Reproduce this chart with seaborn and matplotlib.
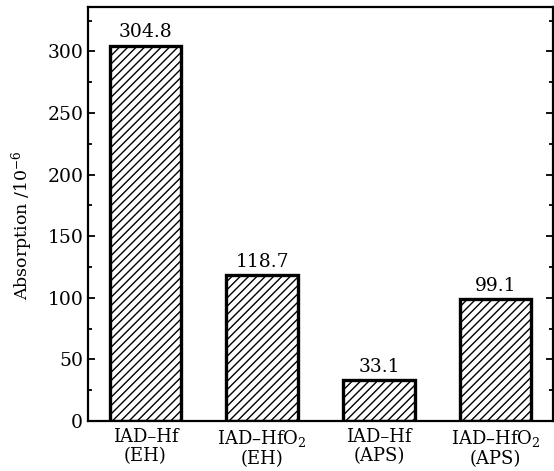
import numpy as np
import pandas as pd
import seaborn as sns
import matplotlib
matplotlib.use('Agg')
import matplotlib.pyplot as plt
from matplotlib.ticker import MultipleLocator

# data
samples = ['IAD\u2013Hf\n(EH)', 'IAD\u2013HfO$_2$\n(EH)', 'IAD\u2013Hf\n(APS)', 'IAD\u2013HfO$_2$\n(APS)']
absorption = [304.8, 118.7, 33.1, 99.1]
value_labels = ['304.8', '118.7', '33.1', '99.1']

sns.set_style('ticks')
plt.rcParams['font.family'] = ['DejaVu Serif']
plt.rcParams['mathtext.fontset'] = 'dejavuserif'
plt.rcParams['hatch.linewidth'] = 1.0
plt.rcParams['text.color'] = 'black'
plt.rcParams['axes.labelcolor'] = 'black'
plt.rcParams['xtick.color'] = 'black'
plt.rcParams['ytick.color'] = 'black'
plt.rcParams['axes.edgecolor'] = 'black'

df = pd.DataFrame({'sample': samples, 'absorption': absorption})

fig = plt.figure(figsize=(5.54, 4.71), dpi=100)
ax = fig.add_axes([0.159, 0.106, 0.839, 0.879])

sns.barplot(data=df, x='sample', y='absorption', color='white', saturation=1,
            edgecolor='black', linewidth=2.4, width=0.61, ax=ax)
for p in ax.patches:
    p.set_hatch('////')

ax.bar_label(ax.containers[0], labels=value_labels, padding=3, fontsize=13.5)

ax.set_xlim(-0.49, 3.49)
ax.set_ylim(0, 336)
ax.yaxis.set_major_locator(MultipleLocator(50))
ax.yaxis.set_minor_locator(MultipleLocator(25))
ax.tick_params(axis='y', which='major', direction='in', length=5, width=1.3,
               left=True, right=True, labelsize=13.5)
ax.tick_params(axis='y', which='minor', direction='in', length=3, width=1.3,
               left=True, right=True)
ax.tick_params(axis='x', length=0, labelsize=13, pad=5)
for lab in ax.get_xticklabels():
    lab.set_linespacing(1.05)

for s in ax.spines.values():
    s.set_visible(True)
    s.set_linewidth(1.6)

ax.set_xlabel('')
ax.set_ylabel('Absorption /10$^{-6}$', fontsize=12.5)
ax.yaxis.set_label_coords(-0.115, 0.473)

fig.savefig('out.png', dpi=100)
